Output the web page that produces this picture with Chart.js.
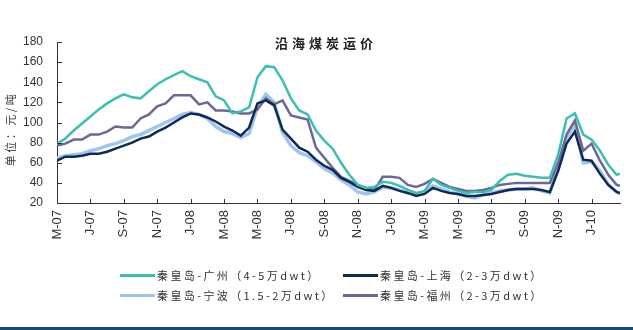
<!DOCTYPE html>
<html><head><meta charset="utf-8">
<script src="https://cdn.jsdelivr.net/npm/chart.js@4/dist/chart.umd.min.js"></script>
<style>
html,body{margin:0;padding:0;background:#fff;}
#wrap{position:relative;width:633px;height:330px;overflow:hidden;background:#fff;}
#c{position:absolute;left:0;top:0;}
.title{position:absolute;left:275px;top:36px;font:bold 13px "Noto Sans CJK SC";line-height:14px;letter-spacing:4px;color:#222;white-space:nowrap;}
.ytitle{position:absolute;left:-40px;top:122px;width:100px;text-align:center;font:11px "Noto Sans CJK SC";line-height:14px;letter-spacing:2.5px;color:#333;transform:rotate(-90deg);white-space:nowrap;}
.lg{position:absolute;font:11px "Noto Sans CJK SC";line-height:14px;letter-spacing:2.4px;color:#333;white-space:nowrap;}
.ln{position:absolute;width:35px;height:3px;}
.bar{position:absolute;left:0;top:327px;width:633px;height:3px;background:#0b4f80;}
</style></head>
<body><div id="wrap"><canvas id="c" width="633" height="330"></canvas>
<div class="title" id="title"></div>
<div class="ytitle" id="ytitle"></div>
<div id="legend"></div>
<div class="bar"></div>
</div>
<script>
const chartTitle = '沿海煤炭运价';
const yTitle = '单位：元/吨';
const seriesNames = ['秦皇岛-广州（4-5万dwt）','秦皇岛-上海（2-3万dwt）','秦皇岛-宁波（1.5-2万dwt）','秦皇岛-福州（2-3万dwt）'];
const seriesColors = ['#3bbfb3','#0e2a57','#9fc5ee','#6b6893'];
const tickMonths = [0,2,4,6,8,10,12,14,16,18,20,22,24,26,28,30,32];
const tickLabels = ['M-07','J-07','S-07','N-07','J-08','M-08','M-08','J-08','S-08','N-08','J-09','M-09','M-09','J-09','S-09','N-09','J-10'];
// months since May 2007 (half-month steps)
const months = [0,0.5,1,1.5,2,2.5,3,3.5,4,4.5,5,5.5,6,6.5,7,7.5,8,8.5,9,9.5,10,10.5,11,11.5,12,12.5,13,13.5,14,14.5,15,15.5,16,16.5,17,17.5,18,18.5,19,19.5,20,20.5,21,21.5,22,22.5,23,23.5,24,24.5,25,25.5,26,26.5,27,27.5,28,28.5,29,29.5,30,30.5,31,31.5,32,32.5,33,33.5,33.7];
const guangzhou = [79,84,92,99,106,113,119,124,128,125,124,131,138,143,147,151,146,143,140,126,122,109,111,115,145,156,155,142,124,112,108,92,82,74,60,48,38,35,36,41,40,37,33,30,32,44,38,35,32,30,31,31,33,42,48,49,47,46,45,45,68,104,109,88,83,72,58,48,49];
const shanghai = [62,66,66,67,69,69,71,74,77,80,84,86,91,95,100,105,109,108,105,101,96,92,87,95,119,122,117,93,84,75,71,63,57,53,45,41,36,33,32,37,35,32,30,27,29,35,32,30,29,27,27,28,29,31,33,34,34,34,33,31,52,79,91,63,62,49,38,31,30];
const ningbo = [65,67,68,69,72,74,77,79,82,86,88,92,96,100,104,108,110,108,104,96,91,89,85,89,115,128,120,90,77,70,67,61,54,50,43,38,31,29,31,36,35,33,30,29,31,37,34,31,29,27,25,28,30,32,33,34,34,35,32,30,55,85,98,60,61,52,38,31,29];
const fuzhou = [77,79,83,83,88,88,91,96,95,95,104,108,116,119,127,127,127,118,120,112,112,111,109,109,113,124,118,122,107,105,103,75,65,55,46,42,38,35,33,46,46,45,38,36,39,44,40,36,34,32,32,33,35,38,39,40,40,40,40,40,60,88,102,72,79,62,48,38,37];

const seriesValues = [guangzhou, shanghai, ningbo, fuzhou];
const widths = [2.5, 2.5, 3.5, 2.5];
const orders = [1, 2, 4, 3];

document.getElementById('title').textContent = chartTitle;
document.getElementById('ytitle').textContent = yTitle;
const lgPos = [[120,275],[343,275],[120,295],[343,295]];
const lg = document.getElementById('legend');
seriesNames.forEach((n,i)=>{
  const l = document.createElement('div'); l.className='ln';
  l.style.left = lgPos[i][0]+'px'; l.style.top = (lgPos[i][1]-1.5)+'px'; l.style.background = seriesColors[i];
  lg.appendChild(l);
  const t = document.createElement('div'); t.className='lg'; t.textContent = n;
  t.style.left = (lgPos[i][0]+37)+'px'; t.style.top = (lgPos[i][1]-7)+'px';
  lg.appendChild(t);
});

const inwardTicks = {
  id:'inwardTicks',
  afterDatasetsDraw(chart){
    const {ctx, chartArea, scales:{x,y}} = chart;
    ctx.save(); ctx.strokeStyle='#333'; ctx.lineWidth=1; ctx.beginPath();
    y.ticks.forEach((t,i)=>{ const py=Math.round(y.getPixelForTick(i))+0.5; ctx.moveTo(chartArea.left, py); ctx.lineTo(chartArea.left+5, py); });
    x.ticks.forEach((t,i)=>{ const px=Math.round(x.getPixelForTick(i))+0.5; ctx.moveTo(px, chartArea.bottom); ctx.lineTo(px, chartArea.bottom-4); });
    ctx.stroke(); ctx.restore();
  }
};

new Chart(document.getElementById('c'), {
  type:'line',
  data:{ datasets: seriesValues.map((vals,i)=>({
    label: seriesNames[i],
    data: months.map((m,j)=>({x:m, y:vals[j]})),
    borderColor: seriesColors[i], backgroundColor: seriesColors[i],
    borderWidth: widths[i], pointRadius:0, tension:0, order: orders[i], fill:false
  }))},
  options:{
    responsive:false, devicePixelRatio:1, animation:false,
    layout:{padding:{left:0,right:13,top:42,bottom:0}},
    plugins:{legend:{display:false}, tooltip:{enabled:false}, title:{display:false}},
    scales:{
      x:{ type:'linear', min:0, max:33.7,
        afterBuildTicks(s){ s.ticks = tickMonths.map(v=>({value:v})); },
        afterFit(s){ s.height = 127; },
        ticks:{ autoSkip:false, minRotation:90, maxRotation:90, padding:7, color:'#333',
          font:{family:'Liberation Sans', size:13},
          callback(v){ const i = tickMonths.indexOf(v); return i>=0 ? tickLabels[i] : ''; } },
        grid:{display:false, drawTicks:false},
        border:{display:true, color:'#333', width:1}
      },
      y:{ min:20, max:180,
        afterFit(s){ s.width = 57; },
        ticks:{ stepSize:20, padding:14, color:'#333', font:{family:'Liberation Sans', size:12} },
        grid:{display:false, drawTicks:false},
        border:{display:true, color:'#333', width:1}
      }
    }
  },
  plugins:[inwardTicks]
});
</script>
</body></html>
